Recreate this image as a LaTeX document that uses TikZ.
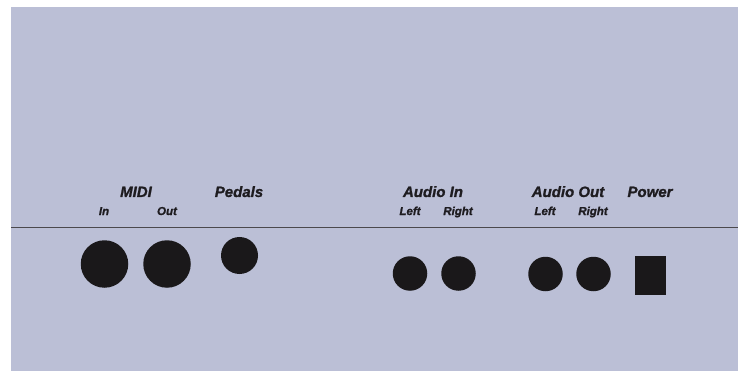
\documentclass[tikz,border=0pt]{standalone}
\usepackage{fontspec}
\setmainfont{Liberation Sans}[BoldItalicFeatures={FakeBold=1.2}]
\definecolor{panel}{RGB}{187,191,214}
\definecolor{jack}{RGB}{26,24,26}
\definecolor{ink}{RGB}{30,28,32}
\begin{document}
\begin{tikzpicture}[x=1pt,y=-1pt,
  biglabel/.style={anchor=base,inner sep=0pt,text=ink,font=\fontsize{15}{15}\selectfont\bfseries\itshape},
  smalllabel/.style={anchor=base,inner sep=0pt,text=ink,font=\fontsize{11.5}{11.5}\selectfont\bfseries\itshape},
  jackhole/.style={circle,fill=jack,draw=none,inner sep=0pt,minimum size=#1},
  powerbox/.style={rectangle,fill=jack,draw=none,inner sep=0pt,minimum width=31pt,minimum height=39pt}]
\useasboundingbox (0,0) rectangle (738,371);
\fill[white] (0,0) rectangle (738,371);
\fill[panel] (11,7) rectangle (738,371);
% divider
\coordinate (divL) at (11,228);
\coordinate (divR) at (738,228);
\draw[line width=1pt,color=ink!80] (divL) -- (divR);
% headings
\node[biglabel] (midi) at (136,197) {MIDI};
\node[biglabel] (pedals) at (239,197) {Pedals};
\node[biglabel] (audioin) at (433,197) {Audio In};
\node[biglabel] (audioout) at (568,197) {Audio Out};
\node[biglabel] (power) at (650,197) {Power};
% sub-labels
\node[smalllabel] (midiin) at (104,215) {In};
\node[smalllabel] (midiout) at (167,215) {Out};
\node[smalllabel] (ainl) at (410,215) {Left};
\node[smalllabel] (ainr) at (458,215) {Right};
\node[smalllabel] (aoutl) at (545,215) {Left};
\node[smalllabel] (aoutr) at (593,215) {Right};
% jacks
\node[jackhole=47.5pt] (jmidiin) at (104.5,264) {};
\node[jackhole=47.5pt] (jmidiout) at (167,264) {};
\node[jackhole=37pt] (jpedals) at (239.5,255.5) {};
\node[jackhole=34.5pt] (jainl) at (410,273.5) {};
\node[jackhole=34.5pt] (jainr) at (458.5,273.5) {};
\node[jackhole=34.5pt] (jaoutl) at (545.5,274) {};
\node[jackhole=34.5pt] (jaoutr) at (593.5,274) {};
\node[powerbox] (jpower) at (650.5,275.5) {};
\end{tikzpicture}
\end{document}
